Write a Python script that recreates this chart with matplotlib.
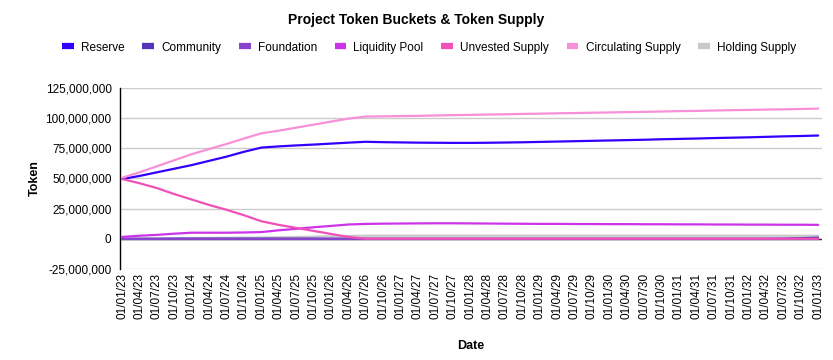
import matplotlib
matplotlib.use("Agg")
import matplotlib.pyplot as plt
from matplotlib.lines import Line2D
from matplotlib.ticker import FuncFormatter, MultipleLocator

plt.rcParams['font.family'] = ['Liberation Sans', 'DejaVu Sans']

# quarterly dates
dates = [f"01/{m:02d}/{y:02d}" for y in range(23, 33) for m in (1, 4, 7, 10)] + ["01/01/33"]

# values in millions of tokens
reserve = [49.5, 52.0, 55.0, 58.0, 61.0, 64.5, 68.0, 72.0, 75.5, 76.5, 77.3, 78.0, 78.8, 79.6,
           80.3, 80.0, 79.8, 79.6, 79.5, 79.4, 79.4, 79.5, 79.7, 79.9, 80.2, 80.5, 80.8, 81.1,
           81.4, 81.7, 82.0, 82.4, 82.7, 83.0, 83.4, 83.7, 84.0, 84.4, 84.8, 85.1, 85.5]
community = [0.0, 0.0, 0.0, 0.1, 0.1, 0.1, 0.1, 0.1, 0.1, 0.1, 0.1, 0.1, 0.1, 0.1,
             0.1, 0.1, 0.1, 0.1, 0.1, 0.1, 0.1, 0.1, 0.1, 0.1, 0.1, 0.1, 0.1, 0.1,
             0.1, 0.1, 0.1, 0.1, 0.1, 0.1, 0.1, 0.1, 0.1, 0.1, 0.2, 0.5, 0.9]
foundation = [0.0, 0.0, 0.0, 0.0, 0.0, 0.0, 0.0, 0.0, 0.0, 0.0, 0.0, 0.0, 0.0, 0.0,
              0.0, 0.0, 0.0, 0.0, 0.0, 0.0, 0.0, 0.0, 0.0, 0.0, 0.0, 0.0, 0.0, 0.0,
              0.0, 0.0, 0.0, 0.0, 0.0, 0.0, 0.0, 0.0, 0.0, 0.0, 0.0, 0.0, 0.0]
liquidity = [1.5, 2.5, 3.2, 4.2, 5.0, 5.0, 5.0, 5.2, 5.5, 7.0, 8.2, 9.5, 10.6, 11.8,
             12.3, 12.5, 12.6, 12.7, 12.8, 12.8, 12.7, 12.6, 12.5, 12.4, 12.3, 12.3, 12.2, 12.2,
             12.1, 12.1, 12.0, 12.0, 11.9, 11.9, 11.8, 11.8, 11.7, 11.7, 11.6, 11.6, 11.5]
unvested = [49.5, 46.0, 42.0, 37.0, 32.5, 28.0, 24.0, 19.5, 14.5, 11.5, 9.0, 6.5, 4.0, 1.5,
            0.0, 0.0, 0.0, 0.0, 0.0, 0.0, 0.0, 0.0, 0.0, 0.0, 0.0, 0.0, 0.0, 0.0,
            0.0, 0.0, 0.0, 0.0, 0.0, 0.0, 0.0, 0.0, 0.0, 0.0, 0.0, 0.0, 0.0]
circulating = [50.5, 55.0, 60.0, 65.0, 70.0, 74.3, 78.5, 83.0, 87.3, 89.5, 92.0, 94.5, 97.0, 99.5,
               101.2, 101.4, 101.6, 101.8, 102.1, 102.4, 102.6, 102.9, 103.1, 103.4, 103.6, 103.9, 104.1, 104.4,
               104.6, 104.9, 105.1, 105.4, 105.7, 105.9, 106.2, 106.5, 106.7, 107.0, 107.2, 107.5, 107.8]
holding = [0.0, 0.1, 0.2, 0.4, 0.6, 0.7, 0.8, 0.9, 1.0, 1.2, 1.4, 1.7, 2.0, 2.3,
           2.5, 2.5, 2.5, 2.5, 2.5, 2.5, 2.5, 2.5, 2.5, 2.5, 2.5, 2.5, 2.5, 2.5,
           2.5, 2.5, 2.5, 2.5, 2.5, 2.5, 2.5, 2.5, 2.5, 2.5, 2.5, 2.5, 2.5]

series = [
    ("Reserve", reserve, "#3300FF"),
    ("Community", community, "#5533BB"),
    ("Foundation", foundation, "#8844CC"),
    ("Liquidity Pool", liquidity, "#CC33E8"),
    ("Unvested Supply", unvested, "#F050B8"),
    ("Circulating Supply", circulating, "#F890D8"),
    ("Holding Supply", holding, "#C8C8C8"),
]

fig = plt.figure(figsize=(8.33, 3.6), dpi=100)
ax = fig.add_axes([0.144, 0.253, 0.843, 0.503])

x = list(range(len(dates)))
draw_order = ["Holding Supply", "Community", "Foundation", "Reserve", "Liquidity Pool",
              "Circulating Supply", "Unvested Supply"]
lookup = {n: (v, c) for n, v, c in series}
for z, name in enumerate(draw_order):
    v, c = lookup[name]
    ax.plot(x, [val * 1e6 for val in v], color=c, lw=1.6, zorder=3 + z, solid_capstyle='round')

ax.set_ylim(-25e6, 125e6)
ax.set_xlim(-0.12, 40.23)
ax.yaxis.set_major_locator(MultipleLocator(25e6))
ax.yaxis.set_major_formatter(FuncFormatter(lambda v, p: f"{int(v):,}"))
ax.set_xticks(x)
ax.set_xticklabels(dates, rotation=90, fontsize=8.5)
ax.tick_params(axis='y', labelsize=8.5, length=0, pad=6)
ax.tick_params(axis='x', length=0, pad=3)
ax.grid(axis='y', color='#CCCCCC', lw=1)
ax.set_axisbelow(True)
for s in ['top', 'right', 'bottom']:
    ax.spines[s].set_visible(False)
ax.spines['left'].set_color('black')
ax.spines['left'].set_linewidth(1)
ax.axhline(0, color='#333333', lw=1, zorder=2)

ax.set_ylabel("Token", fontsize=9, fontweight='bold', labelpad=14)
ax.yaxis.set_label_coords(-0.113, 0.5)
fig.text(0.565, 0.04, "Date", fontsize=9, fontweight='bold', ha='center', va='center')
fig.text(0.5, 0.945, "Project Token Buckets & Token Supply", fontsize=10, fontweight='bold',
         ha='center', va='center')

handles = [Line2D([], [], color=c, lw=4.5, solid_capstyle='butt') for _, _, c in series]
labels = [n for n, _, _ in series]
fig.legend(handles, labels, loc='center', bbox_to_anchor=(0.515, 0.868), ncol=7, frameon=False,
           fontsize=8.5, handlelength=1.0, handletextpad=0.6, columnspacing=1.5)

fig.savefig("out.png", dpi=100)
